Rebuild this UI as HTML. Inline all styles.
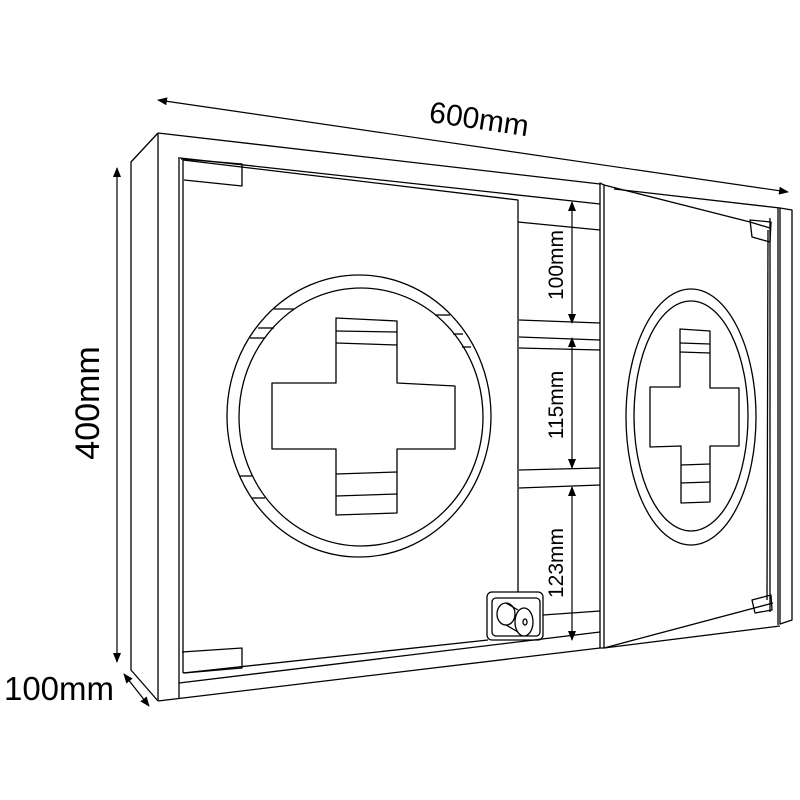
<!DOCTYPE html>
<html><head><style>body{margin:0;background:#fff}svg{display:block}</style></head>
<body>
<svg width="800" height="800" viewBox="0 0 800 800" xmlns="http://www.w3.org/2000/svg">
<defs>
<marker id="a" markerWidth="10" markerHeight="8" refX="9" refY="4" orient="auto-start-reverse" markerUnits="userSpaceOnUse"><path d="M0,0 L10,4 L0,8 z" fill="#000"/></marker>
</defs>
<g fill="none" stroke="#000" stroke-width="1.3" stroke-linejoin="round">
<path d="M158,133 L131,162 L131,670 L158,701"/>
<line x1="158" y1="133" x2="158" y2="701"/>
<line x1="179" y1="157" x2="179" y2="699"/>
<path d="M158,133 L600,184"/>
<path d="M614,189 L780,208"/>
<path d="M158,701 L600,648"/>
<path d="M604,648 L780,626"/>
<path d="M180,158 L600,204"/>
<path d="M179,683 L600,632"/>
<path d="M780,208 L792,210 L792,620 L780,624 Z"/>
<line x1="778" y1="208" x2="778" y2="625"/>
<line x1="770" y1="218" x2="770" y2="612"/>
<path d="M183,160 L518,200 L518,592"/>
<line x1="183" y1="160" x2="183" y2="673"/>
<path d="M183,673 L488,640"/>
<path d="M181,159 L242,164 L242,186 L184,180"/>
<path d="M182,652 L242,648 L242,668 L184,673"/>
<line x1="518" y1="222" x2="600" y2="230"/>
<line x1="519" y1="320" x2="600" y2="323"/>
<line x1="519" y1="337" x2="600" y2="340"/>
<line x1="519" y1="348" x2="600" y2="350"/>
<line x1="519" y1="470" x2="600" y2="468"/>
<line x1="519" y1="488" x2="600" y2="485"/>
<line x1="543" y1="615" x2="600" y2="611"/>
<rect x="487" y="592" width="56" height="48" rx="5"/>
<rect x="492" y="598" width="48" height="38" rx="4"/>
<ellipse cx="506" cy="614" rx="9" ry="11"/>
<path d="M506,603 L518,610 M506,625 L518,632"/>
<ellipse cx="524" cy="622" rx="9" ry="14" fill="#fff"/>
<ellipse cx="525" cy="622" rx="2" ry="3"/>
<path d="M600,183 L604,185 L604,648 L600,648 Z" fill="#fff"/>
<path d="M604,185 L750,222 L770,228"/>
<path d="M768,230 L767,600"/>
<path d="M604,648 L773,603"/>
<path d="M750,220 L771,222 L770,242 L752,237 Z"/>
<path d="M752,600 L771,595 L772,610 L755,613 Z"/>
<ellipse cx="359" cy="416" rx="132" ry="141"/>
<ellipse cx="361" cy="417" rx="122" ry="129"/>
<path d="M336,318 L397,321 L397,383 L455,386 L455,449 L397,449 L397,513 L336,515 L336,449 L272,449 L272,383 L336,383 Z"/>
<line x1="336" y1="331" x2="397" y2="332"/><line x1="336" y1="343" x2="397" y2="345"/>
<line x1="336" y1="474" x2="397" y2="472"/><line x1="336" y1="496" x2="397" y2="494"/>
<line x1="274" y1="309" x2="294" y2="309"/><line x1="258" y1="328" x2="274" y2="328"/><line x1="250" y1="338" x2="265" y2="338"/>
<line x1="435" y1="315" x2="450" y2="315"/><line x1="453" y1="334" x2="463" y2="334"/><line x1="462" y1="347" x2="471" y2="347"/>
<line x1="240" y1="476" x2="252" y2="476"/><line x1="252" y1="498" x2="265" y2="498"/>
<ellipse cx="691" cy="417" rx="65" ry="128"/>
<ellipse cx="691" cy="416" rx="57" ry="115"/>
<path d="M680,329 L710,331 L710,388 L739,388 L739,446 L710,446 L710,502 L681,503 L681,446 L650,447 L650,387 L680,387 Z"/>
<line x1="680" y1="343" x2="710" y2="344"/><line x1="680" y1="352" x2="710" y2="353"/>
<line x1="681" y1="465" x2="710" y2="464"/><line x1="681" y1="483" x2="710" y2="482"/>
</g>
<g stroke="#000" stroke-width="1.2" fill="none">
<line x1="158" y1="100" x2="788" y2="192" marker-start="url(#a)" marker-end="url(#a)"/>
<line x1="117" y1="168" x2="117" y2="662" marker-start="url(#a)" marker-end="url(#a)"/>
<line x1="124" y1="674" x2="149" y2="706" marker-start="url(#a)" marker-end="url(#a)"/>
<line x1="572" y1="202" x2="572" y2="323" marker-start="url(#a)" marker-end="url(#a)"/>
<line x1="572" y1="338" x2="572" y2="468" marker-start="url(#a)" marker-end="url(#a)"/>
<line x1="572" y1="487" x2="572" y2="640" marker-start="url(#a)" marker-end="url(#a)"/>
</g>
<g font-family="Liberation Sans, sans-serif" fill="#000">
<text x="479" y="129" font-size="30" text-anchor="middle" transform="rotate(8.3 478 120)">600mm</text>
<text x="0" y="0" font-size="34" text-anchor="middle" transform="translate(99,403) rotate(-90)">400mm</text>
<text x="59" y="700" font-size="33" text-anchor="middle">100mm</text>
<text x="0" y="0" font-size="21" text-anchor="middle" transform="translate(563,265) rotate(-90)">100mm</text>
<text x="0" y="0" font-size="21" text-anchor="middle" transform="translate(563,405) rotate(-90)">115mm</text>
<text x="0" y="0" font-size="21" text-anchor="middle" transform="translate(563,563) rotate(-90)">123mm</text>
</g>
</svg>
</body></html>
